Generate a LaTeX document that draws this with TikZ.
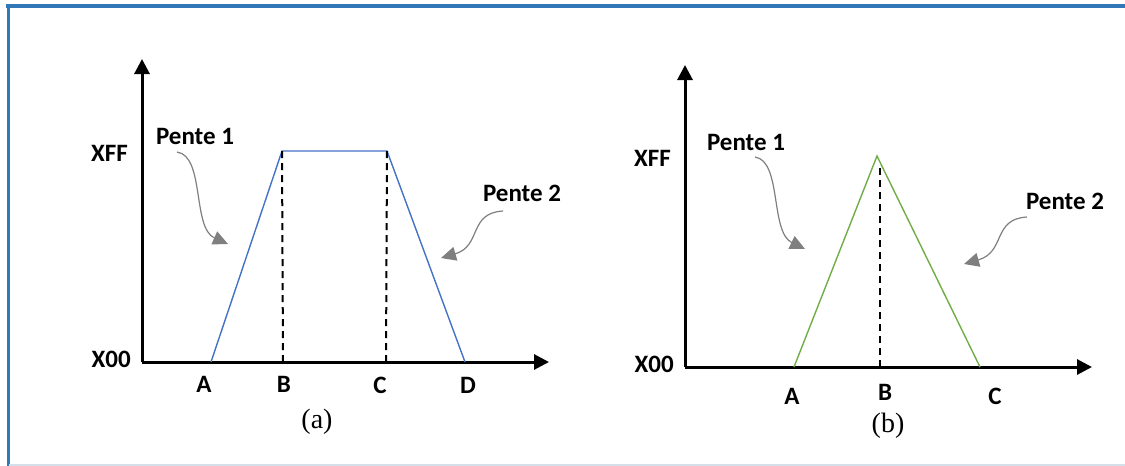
\documentclass[tikz,border=0pt]{standalone}
\usepackage{fontspec}
\setmainfont{Liberation Serif}
\newfontfamily\lblfont{Carlito}
\usetikzlibrary{arrows.meta}
\definecolor{frameblue}{HTML}{3277B8}
\definecolor{framelight}{HTML}{D5DFEA}
\definecolor{trapblue}{HTML}{4472C4}
\definecolor{trigreen}{HTML}{70AD47}
\definecolor{arrgray}{HTML}{7F7F7F}
\begin{document}
\begin{tikzpicture}[x=1pt,y=-1pt,
  axis/.style={line width=3pt,-{Triangle[length=15pt,width=15pt]}},
  lbl/.style={font=\lblfont\bfseries\fontsize{25}{28}\selectfont,inner sep=0pt},
  captext/.style={font=\fontsize{28}{32}\selectfont,inner sep=0pt},
  guide/.style={line width=2pt,dash pattern=on 7pt off 5pt},
  pente/.style={arrgray,line width=1.2pt,-{Triangle[length=15pt,width=14pt]}}]
\useasboundingbox (0,0) rectangle (1125,466);
% frame
\draw[frameblue,line width=4pt] (6,6) -- (1125,6);
\draw[frameblue,line width=3pt] (8.5,4) -- (8.5,466);
\draw[framelight,line width=1.5pt] (8.5,465) -- (1125,465);

% ---------- panel (a)
\coordinate (oa) at (142,362);
\coordinate (ya) at (142,59);
\coordinate (xa) at (549,362);
\coordinate (pA) at (211,362);
\coordinate (pB) at (282,151);
\coordinate (pC) at (387,151);
\coordinate (pD) at (465,362);
\coordinate (bB) at (283,362);
\coordinate (bC) at (386,362);
\draw[axis] (oa) -- (ya);
\draw[axis] (oa) -- (xa);
\draw[trapblue,line width=1.4pt] (pA) -- (pB) -- (pC) -- (pD);
\draw[guide] (bB) -- (pB);
\draw[guide] (bC) -- (pC);
\node[lbl,anchor=east] (xffa) at (128,153) {XFF};
\node[lbl,anchor=east] (x00a) at (131,359) {X00};
\node[lbl] (la) at (204,384) {A};
\node[lbl] (lb) at (284,384) {B};
\node[lbl] (lc) at (380,385) {C};
\node[lbl] (ld) at (468,385) {D};
\node[captext] (capa) at (317,422) {(a)};
\node[lbl] (p1a) at (195,136) {Pente 1};
\node[lbl] (p2a) at (522,193) {Pente 2};
\coordinate (s1a) at (177,152);
\coordinate (t1a) at (228,244);
\coordinate (s2a) at (503,211);
\coordinate (t2a) at (441,258);
\draw[pente] (s1a) .. controls (205,156) and (192,228) .. (t1a);
\draw[pente] (s2a) .. controls (468,213) and (482,246) .. (t2a);

% ---------- panel (b)
\coordinate (ob) at (685,367);
\coordinate (yb) at (685,65);
\coordinate (xb) at (1092,367);
\coordinate (qA) at (794,367);
\coordinate (qB) at (877,156);
\coordinate (qC) at (980,367);
\coordinate (bB2) at (880,367);
\coordinate (tB2) at (880,166);
\draw[axis] (ob) -- (yb);
\draw[axis] (ob) -- (xb);
\draw[trigreen,line width=1.4pt] (qA) -- (qB) -- (qC);
\draw[guide] (bB2) -- (tB2);
\node[lbl,anchor=east] (xffb) at (671,158) {XFF};
\node[lbl,anchor=east] (x00b) at (674,364) {X00};
\node[lbl] (lab) at (792,396) {A};
\node[lbl] (lbb) at (885,392) {B};
\node[lbl] (lcb) at (995,396) {C};
\node[captext] (capb) at (888,426) {(b)};
\node[lbl] (p1b) at (746,142) {Pente 1};
\node[lbl] (p2b) at (1065,201) {Pente 2};
\coordinate (s1b) at (755,157);
\coordinate (t1b) at (805,249);
\coordinate (s2b) at (1027,217);
\coordinate (t2b) at (964,264);
\draw[pente] (s1b) .. controls (782,161) and (770,232) .. (t1b);
\draw[pente] (s2b) .. controls (992,219) and (1006,252) .. (t2b);
\end{tikzpicture}
\end{document}
